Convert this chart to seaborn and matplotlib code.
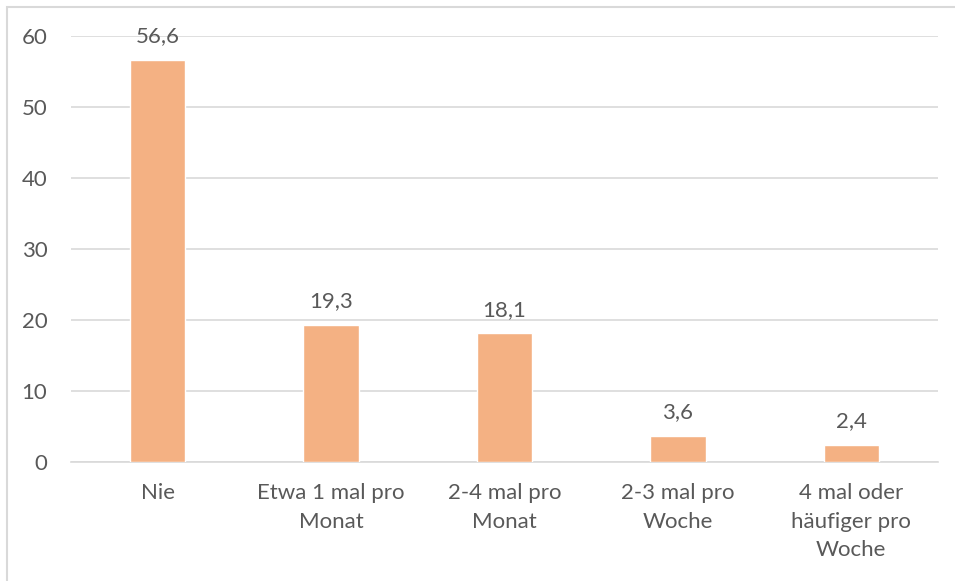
import matplotlib
matplotlib.use("Agg")
import matplotlib.pyplot as plt
import seaborn as sns
import pandas as pd
from matplotlib.patches import Rectangle

categories = ["Nie", "Etwa 1 mal pro\nMonat", "2-4 mal pro\nMonat",
              "2-3 mal pro\nWoche", "4 mal oder\nhäufiger pro\nWoche"]
values = [56.6, 19.3, 18.1, 3.6, 2.4]
value_labels = ["56,6", "19,3", "18,1", "3,6", "2,4"]
y_ticks = [0, 10, 20, 30, 40, 50, 60]

sns.set_theme(style="white")
plt.rcParams["font.family"] = ["Lato", "DejaVu Sans"]

TEXT = "#595959"
GRID = "#d9d9d9"
BAR = "#F4B183"
FS = 16

df = pd.DataFrame({"cat": categories, "val": values})

fig = plt.figure(figsize=(9.55, 5.81), dpi=100)
ax = fig.add_axes([71 / 955, 1 - 462 / 581, (938 - 71) / 955, (462 - 36) / 581])

sns.barplot(data=df, x="cat", y="val", color=BAR, width=0.32, ax=ax,
            saturation=1, zorder=3)

ax.set_ylim(0, 60)
ax.set_yticks(y_ticks)
ax.set_yticklabels([str(t) for t in y_ticks])
ax.grid(axis="y", color=GRID, linewidth=1.2, zorder=0)
ax.grid(axis="x", visible=False)
for s in ["left", "right", "top"]:
    ax.spines[s].set_visible(False)
ax.spines["bottom"].set_color(GRID)
ax.spines["bottom"].set_linewidth(1.2)
ax.set_xlabel("")
ax.set_ylabel("")
ax.tick_params(axis="y", length=0, pad=17, labelsize=FS, labelcolor=TEXT)
ax.tick_params(axis="x", length=0, pad=15, labelsize=FS, labelcolor=TEXT)
for lbl in ax.get_xticklabels():
    lbl.set_linespacing(1.55)

for i, (v, t) in enumerate(zip(values, value_labels)):
    ax.annotate(t, xy=(i, v), xytext=(0, 10), textcoords="offset points",
                ha="center", va="bottom", fontsize=FS, color=TEXT)

# chart frame
fig.patches.append(Rectangle((7 / 955, -0.05), 1.0, 1 - 6.5 / 581 + 0.05,
                             transform=fig.transFigure, fill=False,
                             edgecolor=GRID, linewidth=1.5))

fig.savefig("out.png", dpi=100, facecolor="white")
